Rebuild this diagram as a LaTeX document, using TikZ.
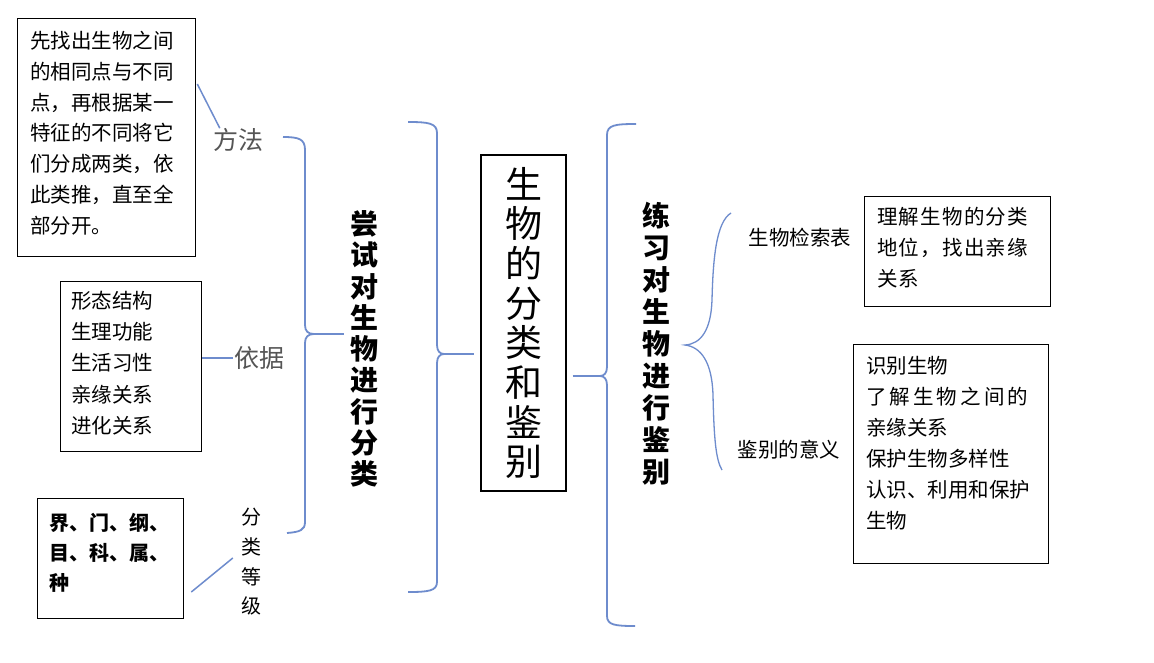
\documentclass[tikz,border=0pt]{standalone}
\usepackage{fontspec}
\setmainfont{Noto Sans CJK SC}
\newfontfamily\cjk{Noto Sans CJK SC}
\usetikzlibrary{calc}
\definecolor{bracecol}{RGB}{110,140,205}
\definecolor{labgray}{RGB}{85,85,85}
\begin{document}
\begin{tikzpicture}[x=1pt,y=-1pt,
  box/.style={draw=black, line width=1.3pt, inner sep=0pt, anchor=north west},
  txt/.style={inner sep=0pt, anchor=north west, align=left, font=\cjk\fontsize{20.5}{30.8}\selectfont},
  vtxt/.style={inner sep=0pt, anchor=center, align=center},
  lab/.style={inner sep=0pt, anchor=center, font=\cjk\fontsize{20.5}{24}\selectfont},
  glab/.style={inner sep=0pt, anchor=center, text=labgray, font=\cjk\fontsize{25}{28}\selectfont},
  brace/.style={draw=bracecol, line width=1.8pt},
  thinbrace/.style={draw=bracecol, line width=1.3pt},
  lnk/.style={draw=bracecol, line width=1.5pt}]
\useasboundingbox[fill=white] (0,0) rectangle (1154,662);

% ---------- left boxes ----------
\node[box, minimum width=178pt, minimum height=238pt] (boxA) at (17,18) {};
\node[txt] (tA) at (30,31) {先找出生物之间\\的相同点与不同\\点，再根据某一\\特征的不同将它\\们分成两类，依\\此类推，直至全\\部分开。};

\node[box, minimum width=141pt, minimum height=170pt] (boxB) at (60,281) {};
\node[txt, font=\cjk\fontsize{20.5}{31.2}\selectfont] (tB) at (71,291) {形态结构\\生理功能\\生活习性\\亲缘关系\\进化关系};

\node[box, minimum width=146pt, minimum height=120pt] (boxC) at (37,498) {};
\node[txt, font=\cjk\bfseries\fontsize{20}{30}\selectfont] (tC) at (49,513) {界、门、纲、\\目、科、属、\\种};

% ---------- left labels ----------
\node[glab] (fangfa) at (238,140) {方法};
\node[glab] (yiju) at (259,358) {依据};
\begin{scope}
  \clip (200,495) rectangle (300,615);
  \node[vtxt, font=\cjk\fontsize{20}{29.7}\selectfont] (fenlei) at (251,562) {分\\类\\等\\级};
\end{scope}

\draw[lnk] ($(boxA.north east)+(1,66)$) -- ($(fangfa.north west)+(7,0)$);
\draw[lnk] (boxB.east |- yiju.west) -- ($(yiju.west)+(-1,0)$);
\draw[lnk] ($(boxC.north east)+(7,94)$) -- ($(fenlei.west)+(-8,-4)$);

% ---------- brace 1 ----------
\coordinate (b1tip) at (314,334);
\draw[brace] (283,137) .. controls (299,137) and (305,139) .. (305,150) -- (305,325)
  .. controls (305,331) and (308,334) .. (b1tip)
  .. controls (308,334) and (305,337) .. (305,343) -- (305,522)
  .. controls (305,530) and (300,532) .. (287,533);
\node[vtxt, font=\cjk\bfseries\fontsize{28}{31.3}\selectfont] (tryc) at (364,349) {尝\\试\\对\\生\\物\\进\\行\\分\\类};
\draw[brace] (b1tip) -- ($(tryc.west |- b1tip)+(-6,0)$);

% ---------- brace 2 ----------
\coordinate (b2tip) at (444,354);
\draw[brace] (408,122) .. controls (428,122) and (437,123) .. (437,133) -- (437,345)
  .. controls (437,351) and (440,354) .. (b2tip)
  .. controls (440,354) and (437,357) .. (437,363) -- (437,582)
  .. controls (437,591) and (428,592) .. (408,592);

% ---------- central box ----------
\node[box, anchor=center, minimum width=85pt, minimum height=336pt, align=center,
  font=\cjk\fontsize{37}{39.7}\selectfont] (main) at (523.5,323) {生\\物\\的\\分\\类\\和\\鉴\\别};
\draw[brace] (b2tip) -- ($(main.west |- b2tip)+(-6,0)$);

% ---------- brace 3 ----------
\coordinate (b3tip) at (600,376);
\draw[brace] (636,124) .. controls (615,124) and (607,125) .. (607,135) -- (607,367)
  .. controls (607,373) and (604,376) .. (b3tip)
  .. controls (604,376) and (607,379) .. (607,385) -- (607,616)
  .. controls (607,625) and (615,626) .. (635,626);
\draw[brace] ($(main.east |- b3tip)+(6,0)$) -- (b3tip);

\node[vtxt, font=\cjk\bfseries\fontsize{28}{32}\selectfont] (prac) at (656,344) {练\\习\\对\\生\\物\\进\\行\\鉴\\别};

% ---------- brace 4 ----------
\coordinate (b4tip) at (685,345);
\draw[thinbrace] (731,213) .. controls (716,222) and (713,260) .. (712,300)
  .. controls (711,330) and (701,344) .. (b4tip)
  .. controls (701,347) and (712,362) .. (713,395)
  .. controls (714,440) and (716,460) .. (722,470);

\node[lab] (jsb) at (800,238) {生物检索表};
\node[lab] (jbyy) at (789,450) {鉴别的意义};

% ---------- right boxes ----------
\node[box, minimum width=186pt, minimum height=110pt] (boxD) at (864,196) {};
\node[txt, font=\cjk\addfontfeature{LetterSpace=6}\fontsize{20.5}{31}\selectfont] (tD) at (877,207) {理解生物的分类\\地位，找出亲缘\\关系};

\node[box, minimum width=195pt, minimum height=219pt] (boxE) at (853,344) {};
\node[txt, font=\cjk\fontsize{20.5}{31}\selectfont] (tE) at (866,356) {识别生物\\{\addfontfeature{LetterSpace=15}了解生物之间的}\\亲缘关系\\保护生物多样性\\认识、利用和保护\\生物};

\end{tikzpicture}
\end{document}
